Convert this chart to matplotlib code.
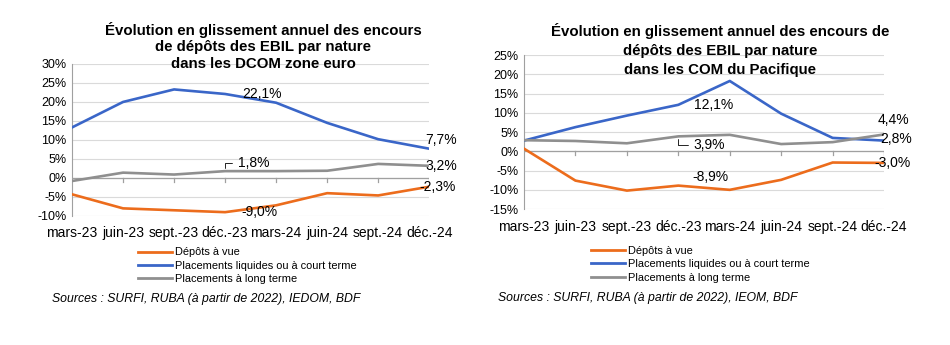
import matplotlib
matplotlib.use("Agg")
import matplotlib.pyplot as plt
from matplotlib.lines import Line2D

months = ["mars-23", "juin-23", "sept.-23", "déc.-23", "mars-24", "juin-24", "sept.-24", "déc.-24"]
series_names = ["Dépôts à vue", "Placements liquides ou à court terme", "Placements à long terme"]

# DCOM zone euro
dcom_vue = [-4.3, -8.0, -8.5, -9.0, -7.2, -4.0, -4.6, -2.3]
dcom_court = [13.3, 20.0, 23.3, 22.1, 19.8, 14.5, 10.2, 7.7]
dcom_long = [-0.8, 1.4, 0.9, 1.8, 1.8, 1.9, 3.7, 3.2]

# COM du Pacifique
pac_vue = [0.7, -7.6, -10.2, -8.9, -10.0, -7.4, -2.9, -3.0]
pac_court = [2.8, 6.3, 9.3, 12.1, 18.3, 9.8, 3.5, 2.8]
pac_long = [2.9, 2.7, 2.1, 3.9, 4.3, 1.9, 2.4, 4.4]

ORANGE = "#EC6C1C"
BLUE = "#3A66C8"
GREY = "#8F8F8F"

plt.rcParams["font.family"] = ["Liberation Sans", "DejaVu Sans"]

fig = plt.figure(figsize=(9.5, 3.45), dpi=100)


def fmt(v):
    return f"{v:.1f}%".replace(".", ",")


def draw_panel(rect, vue, court, long_, ylim, title, title_xy, title_ls, legend_xy,
               source, source_xy, labels, xpad):
    ax = fig.add_axes(rect)
    x = list(range(len(months)))
    for ser, c in ((vue, ORANGE), (court, BLUE), (long_, GREY)):
        ax.plot(x, ser, color=c, lw=1.9, solid_joinstyle="round", zorder=3)
    ax.set_xlim(0, len(months) - 1)
    ax.set_ylim(*ylim)
    yt = list(range(ylim[0], ylim[1] + 1, 5))
    ax.set_yticks(yt)
    ax.set_yticklabels([f"{t}%" for t in yt], fontsize=9)
    ax.set_xticks(x)
    ax.set_xticklabels(months, fontsize=10)
    ax.tick_params(axis="x", length=0, pad=xpad)
    ax.tick_params(axis="y", length=0, pad=4)
    for s in ["top", "right", "bottom"]:
        ax.spines[s].set_visible(False)
    ax.spines["left"].set_color("#A0A0A0")
    ax.grid(axis="y", color="#DADADA", lw=0.8)
    ax.set_axisbelow(True)
    # zero axis with tick marks
    ax.axhline(0, color="#A0A0A0", lw=0.9, zorder=1)
    h = (ylim[1] - ylim[0]) * 0.025
    for xi in x[1:]:
        ax.plot([xi, xi], [0, -h], color="#A0A0A0", lw=0.9, zorder=1)

    for (ser, idx, dx, dy, leader) in labels:
        data = {"vue": vue, "court": court, "long": long_}[ser]
        v = data[idx]
        kw = {}
        if leader:
            kw["arrowprops"] = dict(arrowstyle="-", color="black", lw=0.6,
                                    connectionstyle="angle,angleA=0,angleB=90,rad=0",
                                    shrinkA=2, shrinkB=2)
        ax.annotate(fmt(v), xy=(idx, v), xytext=(dx, dy), textcoords="offset points",
                    ha="left", va="center", fontsize=10, annotation_clip=False,
                    zorder=4, **kw)

    fig.text(title_xy[0], title_xy[1], title, ha="center", va="top", fontsize=10.8,
             fontweight="bold", linespacing=title_ls)
    handles = [Line2D([], [], color=c, lw=2.0) for c in (ORANGE, BLUE, GREY)]
    fig.legend(handles, series_names, loc="upper left", bbox_to_anchor=legend_xy,
               frameon=False, fontsize=7.9, handlelength=3.1, handletextpad=0.3,
               labelspacing=0.3, borderaxespad=0, borderpad=0)
    fig.text(source_xy[0], source_xy[1], source, ha="left", va="center", fontsize=8.8,
             style="italic")
    return ax


draw_panel([0.0758, 0.374, 0.376, 0.4406], dcom_vue, dcom_court, dcom_long, (-10, 30),
           "Évolution en glissement annuel des encours\nde dépôts des EBIL par nature\ndans les DCOM zone euro",
           (0.277, 0.937), 1.25, (0.145, 0.283),
           "Sources : SURFI, RUBA (à partir de 2022), IEDOM, BDF", (0.055, 0.133),
           [("court", 3, 12, 0, False), ("court", 7, -3, 6, False),
            ("long", 3, 9, 6, True), ("long", 7, -3, 0, False),
            ("vue", 7, -7, 0, False), ("vue", 3, 12, 0, False)], 7)

draw_panel([0.5516, 0.394, 0.379, 0.446], pac_vue, pac_court, pac_long, (-15, 25),
           "Évolution en glissement annuel des encours de\ndépôts des EBIL par nature\ndans les COM du Pacifique",
           (0.758, 0.934), 1.45, (0.622, 0.287),
           "Sources : SURFI, RUBA (à partir de 2022), IEOM, BDF", (0.524, 0.136),
           [("court", 3, 11, 0, False), ("court", 7, -3, 1.5, False),
            ("long", 3, 11, -6, True), ("long", 7, -4.5, 10.5, False),
            ("vue", 7, -7, 0, False), ("vue", 3, 10, 6, False)], 8)

fig.savefig("out.png", dpi=100)
